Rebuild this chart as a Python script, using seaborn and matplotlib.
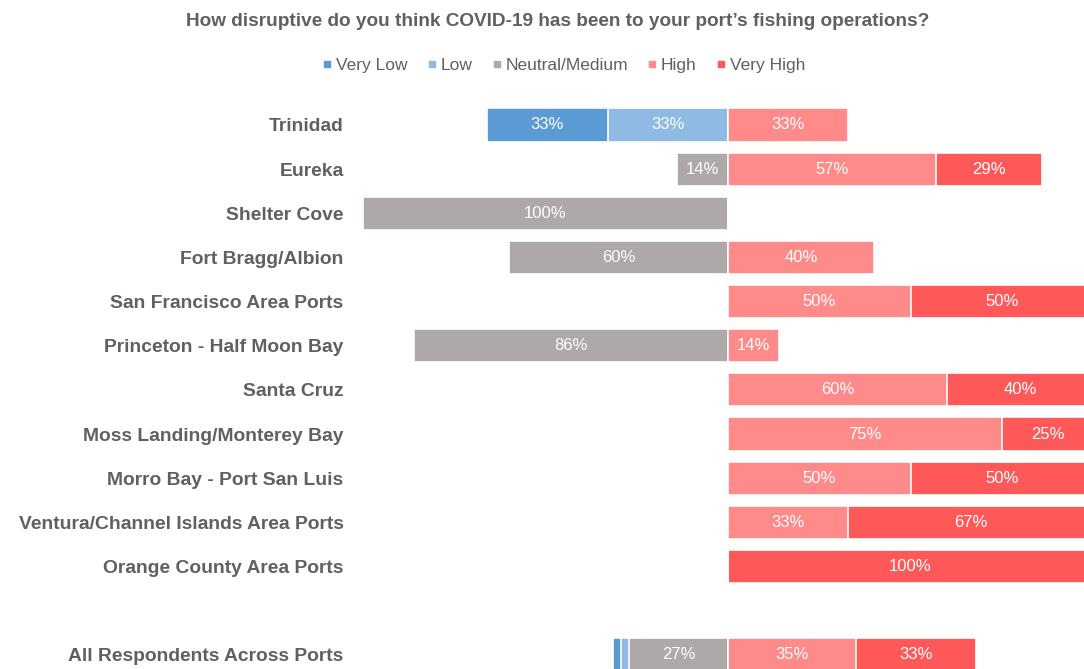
import matplotlib
matplotlib.use("Agg")
import matplotlib.pyplot as plt
from matplotlib.lines import Line2D
import seaborn as sns
import pandas as pd
import numpy as np

ports = ["Trinidad", "Eureka", "Shelter Cove", "Fort Bragg/Albion",
         "San Francisco Area Ports", "Princeton - Half Moon Bay", "Santa Cruz",
         "Moss Landing/Monterey Bay", "Morro Bay - Port San Luis",
         "Ventura/Channel Islands Area Ports", "Orange County Area Ports",
         "All Respondents Across Ports"]
very_low = [33, 0, 0, 0, 0, 0, 0, 0, 0, 0, 0, 2.3]
low      = [33, 0, 0, 0, 0, 0, 0, 0, 0, 0, 0, 2.3]
neutral  = [0, 14, 100, 60, 0, 86, 0, 0, 0, 0, 0, 27]
high     = [33, 57, 0, 40, 50, 14, 60, 75, 50, 33, 0, 35]
very_high= [0, 29, 0, 0, 50, 0, 40, 25, 50, 67, 100, 33]
categories = ["Very Low", "Low", "Neutral/Medium", "High", "Very High"]
colors = ["#5B9BD5", "#8EBAE3", "#AEA9A8", "#FF8A8A", "#FF5858"]
title = "How disruptive do you think COVID-19 has been to your port\u2019s fishing operations?"

df = pd.DataFrame({"port": ports, "vl": very_low, "l": low, "n": neutral,
                   "h": high, "vh": very_high})
df["left_n"] = -df["n"]
df["left_l"] = -(df["n"] + df["l"])
df["left_vl"] = -(df["n"] + df["l"] + df["vl"])
df["right_h"] = df["h"]
df["right_vh"] = df["h"] + df["vh"]

order = ports[:-1] + [" "] + ports[-1:]

sns.set_style("white")
plt.rcParams["font.family"] = ["Liberation Sans", "DejaVu Sans"]

TXT = "#606060"
W, H = 1084, 669
fig = plt.figure(figsize=(W / 100, H / 100), dpi=100)
row_h = 44.15
top_px = 125 - row_h / 2
bot_px = 125 + row_h * 12 + row_h / 2
ax = fig.add_axes([363 / W, 1 - bot_px / H, 730 / W, (bot_px - top_px) / H])

bar_kw = dict(orient="h", order=order, width=0.75, edgecolor="white",
              linewidth=1.2, ax=ax, saturation=1)
sns.barplot(data=df, x="left_vl", y="port", color=colors[0], **bar_kw)
sns.barplot(data=df, x="left_l", y="port", color=colors[1], **bar_kw)
sns.barplot(data=df, x="left_n", y="port", color=colors[2], **bar_kw)
sns.barplot(data=df, x="right_vh", y="port", color=colors[4], **bar_kw)
sns.barplot(data=df, x="right_h", y="port", color=colors[3], **bar_kw)

ax.set_xlim(-100, 100)
ax.set_ylim(len(order) - 0.5, -0.5)
ax.set_xlabel("")
ax.set_ylabel("")
ax.set_xticks([])
for s in ax.spines.values():
    s.set_visible(False)
ax.tick_params(axis="y", length=0, pad=14)
for lbl in ax.get_yticklabels():
    lbl.set_fontsize(13.9)
    lbl.set_fontweight("bold")
    lbl.set_color(TXT)

for _, r in df.iterrows():
    y = order.index(r["port"])
    segs = [(r["left_vl"], r["left_l"], r["vl"]),
            (r["left_l"], r["left_n"], r["l"]),
            (r["left_n"], 0, r["n"]),
            (0, r["right_h"], r["h"]),
            (r["right_h"], r["right_vh"], r["vh"])]
    for a, b, v in segs:
        if v >= 5:
            ax.text((a + b) / 2, y, f"{v:.0f}%", ha="center", va="center",
                    color="white", fontsize=12)

fig.text(558 / W, 1 - 22 / H, title, ha="center", va="center",
         fontsize=13.7, fontweight="bold", color=TXT)

handles = [Line2D([0], [0], marker="s", linestyle="", markersize=5,
                  markerfacecolor=c, markeredgecolor=c) for c in colors]
fig.legend(handles, categories, loc="center", bbox_to_anchor=(561 / W, 1 - 65 / H),
           ncol=5, frameon=False, fontsize=12.5, handletextpad=-0.1,
           columnspacing=0.8, handlelength=1.2, labelcolor=TXT)

fig.savefig("out.png", dpi=100)
